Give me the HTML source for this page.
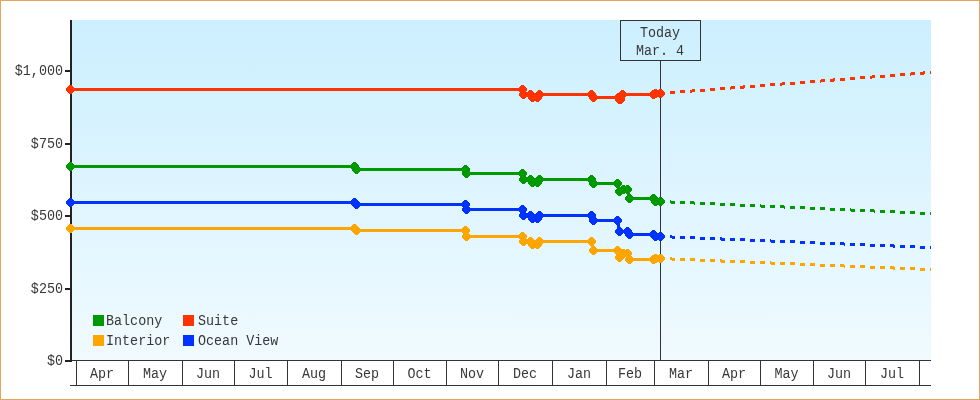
<!DOCTYPE html><html><head><meta charset="utf-8"><style>html,body{margin:0;padding:0;background:#fff}svg{display:block}text{will-change:transform;font-family:"Liberation Mono",monospace;font-size:13.4px;fill:#383838}</style></head><body>
<svg width="980" height="400" viewBox="0 0 980 400">
<defs><linearGradient id="bg" x1="0" y1="0" x2="0" y2="1"><stop offset="0" stop-color="#ccefff"/><stop offset="1" stop-color="#f0faff"/></linearGradient><clipPath id="pc"><rect x="0" y="0" width="931" height="400"/></clipPath></defs>
<rect x="0" y="0" width="980" height="400" fill="#fff"/>
<rect x="0.5" y="0.5" width="979" height="399" fill="none" stroke="#e9a25a" stroke-width="1"/>
<rect x="72" y="20" width="859" height="340" fill="url(#bg)"/>
<g shape-rendering="crispEdges" stroke="#333333" stroke-width="1" fill="none">
<line x1="70" y1="360.5" x2="931" y2="360.5"/>
<line x1="70" y1="385.5" x2="931" y2="385.5"/>
<line x1="76.5" y1="360" x2="76.5" y2="386"/>
<line x1="128.5" y1="360" x2="128.5" y2="386"/>
<line x1="182.5" y1="360" x2="182.5" y2="386"/>
<line x1="234.5" y1="360" x2="234.5" y2="386"/>
<line x1="287.5" y1="360" x2="287.5" y2="386"/>
<line x1="341.5" y1="360" x2="341.5" y2="386"/>
<line x1="393.5" y1="360" x2="393.5" y2="386"/>
<line x1="446.5" y1="360" x2="446.5" y2="386"/>
<line x1="498.5" y1="360" x2="498.5" y2="386"/>
<line x1="552.5" y1="360" x2="552.5" y2="386"/>
<line x1="606.5" y1="360" x2="606.5" y2="386"/>
<line x1="654.5" y1="360" x2="654.5" y2="386"/>
<line x1="708.5" y1="360" x2="708.5" y2="386"/>
<line x1="760.5" y1="360" x2="760.5" y2="386"/>
<line x1="813.5" y1="360" x2="813.5" y2="386"/>
<line x1="865.5" y1="360" x2="865.5" y2="386"/>
<line x1="919.5" y1="360" x2="919.5" y2="386"/>
</g>
<text transform="translate(102.0,378) scale(1,1.1)" text-anchor="middle">Apr</text>
<text transform="translate(155.0,378) scale(1,1.1)" text-anchor="middle">May</text>
<text transform="translate(208.0,378) scale(1,1.1)" text-anchor="middle">Jun</text>
<text transform="translate(260.5,378) scale(1,1.1)" text-anchor="middle">Jul</text>
<text transform="translate(314.0,378) scale(1,1.1)" text-anchor="middle">Aug</text>
<text transform="translate(367.0,378) scale(1,1.1)" text-anchor="middle">Sep</text>
<text transform="translate(419.5,378) scale(1,1.1)" text-anchor="middle">Oct</text>
<text transform="translate(472.0,378) scale(1,1.1)" text-anchor="middle">Nov</text>
<text transform="translate(525.0,378) scale(1,1.1)" text-anchor="middle">Dec</text>
<text transform="translate(579.0,378) scale(1,1.1)" text-anchor="middle">Jan</text>
<text transform="translate(630.0,378) scale(1,1.1)" text-anchor="middle">Feb</text>
<text transform="translate(681.0,378) scale(1,1.1)" text-anchor="middle">Mar</text>
<text transform="translate(734.0,378) scale(1,1.1)" text-anchor="middle">Apr</text>
<text transform="translate(786.5,378) scale(1,1.1)" text-anchor="middle">May</text>
<text transform="translate(839.0,378) scale(1,1.1)" text-anchor="middle">Jun</text>
<text transform="translate(892.0,378) scale(1,1.1)" text-anchor="middle">Jul</text>
<g shape-rendering="crispEdges" fill="#222222">
<rect x="70" y="20" width="2" height="342"/>
<rect x="65" y="70" width="6" height="2"/>
<rect x="65" y="143" width="6" height="2"/>
<rect x="65" y="215" width="6" height="2"/>
<rect x="65" y="288" width="6" height="2"/>
<rect x="65" y="360" width="6" height="2"/>
</g>
<text transform="translate(63,75) scale(1,1.1)" text-anchor="end">$1,000</text>
<text transform="translate(63,148) scale(1,1.1)" text-anchor="end">$750</text>
<text transform="translate(63,220) scale(1,1.1)" text-anchor="end">$500</text>
<text transform="translate(63,293) scale(1,1.1)" text-anchor="end">$250</text>
<text transform="translate(63,365) scale(1,1.1)" text-anchor="end">$0</text>
<g shape-rendering="crispEdges" stroke="#333333" stroke-width="1" fill="none">
<rect x="620.5" y="20.5" width="80" height="40"/>
<line x1="660.5" y1="61" x2="660.5" y2="360"/>
</g>
<text transform="translate(660,37) scale(1,1.1)" text-anchor="middle">Today</text>
<text transform="translate(660,55) scale(1,1.1)" text-anchor="middle">Mar. 4</text>
<g clip-path="url(#pc)">
<g transform="translate(0.5,0.5)" shape-rendering="crispEdges">
<path d="M659.50 258.00L664.50 258.20M669.50 258.41L674.50 258.61M679.50 258.81L684.50 259.02M689.50 259.22L694.50 259.43M699.50 259.63L704.50 259.83M709.50 260.04L714.50 260.24M719.50 260.44L724.50 260.65M729.50 260.85L734.50 261.06M739.50 261.26L744.50 261.46M749.50 261.67L754.50 261.87M759.50 262.07L764.50 262.28M769.50 262.48L774.50 262.69M779.50 262.89L784.50 263.09M789.50 263.30L794.50 263.50M799.50 263.70L804.50 263.91M809.50 264.11L814.50 264.31M819.50 264.52L824.50 264.72M829.50 264.93L834.50 265.13M839.50 265.33L844.50 265.54M849.50 265.74L854.50 265.94M859.50 266.15L864.50 266.35M869.50 266.56L874.50 266.76M879.50 266.96L884.50 267.17M889.50 267.37L894.50 267.57M899.50 267.78L904.50 267.98M909.50 268.19L914.50 268.39M919.50 268.59L924.50 268.80M929.50 269.00L934.50 269.20" stroke="#ffa500" stroke-width="3" fill="none"/>
<path d="M659.50 236.00L664.50 236.20M669.50 236.41L674.50 236.61M679.50 236.81L684.50 237.02M689.50 237.22L694.50 237.43M699.50 237.63L704.50 237.83M709.50 238.04L714.50 238.24M719.50 238.44L724.50 238.65M729.50 238.85L734.50 239.06M739.50 239.26L744.50 239.46M749.50 239.67L754.50 239.87M759.50 240.07L764.50 240.28M769.50 240.48L774.50 240.69M779.50 240.89L784.50 241.09M789.50 241.30L794.50 241.50M799.50 241.70L804.50 241.91M809.50 242.11L814.50 242.31M819.50 242.52L824.50 242.72M829.50 242.93L834.50 243.13M839.50 243.33L844.50 243.54M849.50 243.74L854.50 243.94M859.50 244.15L864.50 244.35M869.50 244.56L874.50 244.76M879.50 244.96L884.50 245.17M889.50 245.37L894.50 245.57M899.50 245.78L904.50 245.98M909.50 246.19L914.50 246.39M919.50 246.59L924.50 246.80M929.50 247.00L934.50 247.20" stroke="#0033ff" stroke-width="3" fill="none"/>
<path d="M659.50 201.00L664.50 201.22M669.50 201.44L674.50 201.67M679.50 201.89L684.50 202.11M689.50 202.33L694.50 202.56M699.50 202.78L704.50 203.00M709.50 203.22L714.50 203.44M719.50 203.67L724.50 203.89M729.50 204.11L734.50 204.33M739.50 204.56L744.50 204.78M749.50 205.00L754.50 205.22M759.50 205.44L764.50 205.67M769.50 205.89L774.50 206.11M779.50 206.33L784.50 206.56M789.50 206.78L794.50 207.00M799.50 207.22L804.50 207.44M809.50 207.67L814.50 207.89M819.50 208.11L824.50 208.33M829.50 208.56L834.50 208.78M839.50 209.00L844.50 209.22M849.50 209.44L854.50 209.67M859.50 209.89L864.50 210.11M869.50 210.33L874.50 210.56M879.50 210.78L884.50 211.00M889.50 211.22L894.50 211.44M899.50 211.67L904.50 211.89M909.50 212.11L914.50 212.33M919.50 212.56L924.50 212.78M929.50 213.00L934.50 213.22" stroke="#009900" stroke-width="3" fill="none"/>
<path d="M659.50 93.00L664.50 92.61M669.50 92.22L674.50 91.83M679.50 91.44L684.50 91.06M689.50 90.67L694.50 90.28M699.50 89.89L704.50 89.50M709.50 89.11L714.50 88.72M719.50 88.33L724.50 87.94M729.50 87.56L734.50 87.17M739.50 86.78L744.50 86.39M749.50 86.00L754.50 85.61M759.50 85.22L764.50 84.83M769.50 84.44L774.50 84.06M779.50 83.67L784.50 83.28M789.50 82.89L794.50 82.50M799.50 82.11L804.50 81.72M809.50 81.33L814.50 80.94M819.50 80.56L824.50 80.17M829.50 79.78L834.50 79.39M839.50 79.00L844.50 78.61M849.50 78.22L854.50 77.83M859.50 77.44L864.50 77.06M869.50 76.67L874.50 76.28M879.50 75.89L884.50 75.50M889.50 75.11L894.50 74.72M899.50 74.33L904.50 73.94M909.50 73.56L914.50 73.17M919.50 72.78L924.50 72.39M929.50 72.00L934.50 71.61" stroke="#ff3300" stroke-width="3" fill="none"/>
<polyline fill="none" stroke="#ffa500" stroke-width="3" stroke-linejoin="miter" points="70,228 354,228 356,230 465,230 466,236 522,236 523,241 530,241 532,244 537,244 539,241 591,241 593,250 617,250 619,257 623,253 627,253 629,259 653,259 655,258 660,258"/>
<polyline fill="none" stroke="#0033ff" stroke-width="3" stroke-linejoin="miter" points="70,202 354,202 356,204 465,204 466,209 522,209 523,215 530,215 532,218 537,218 539,215 591,215 593,220 617,220 619,231 627,231 629,234 653,234 655,236 660,236"/>
<polyline fill="none" stroke="#009900" stroke-width="3" stroke-linejoin="miter" points="70,166 354,166 356,169 465,169 466,173 522,173 523,179 530,179 532,182 537,182 539,179 591,179 593,183 617,183 619,191 623,189 627,189 629,198 653,198 655,201 660,201"/>
<polyline fill="none" stroke="#ff3300" stroke-width="3" stroke-linejoin="miter" points="70,89 522,89 523,94 530,94 532,97 537,97 539,94 591,94 593,97 618,97 619,99 620,99 622,94 653,94 655,93 660,93"/>
</g><g shape-rendering="crispEdges">
<path fill="#ffa500" d="M69 224h3v1h-3zM68 225h5v1h-5zM67 226h7v1h-7zM66 227h9v1h-9zM66 228h9v1h-9zM66 229h9v1h-9zM67 230h7v1h-7zM68 231h5v1h-5zM69 232h3v1h-3z"/>
<path fill="#ffa500" d="M353 224h3v1h-3zM352 225h5v1h-5zM351 226h7v1h-7zM350 227h9v1h-9zM350 228h9v1h-9zM350 229h9v1h-9zM351 230h7v1h-7zM352 231h5v1h-5zM353 232h3v1h-3z"/>
<path fill="#ffa500" d="M355 226h3v1h-3zM354 227h5v1h-5zM353 228h7v1h-7zM352 229h9v1h-9zM352 230h9v1h-9zM352 231h9v1h-9zM353 232h7v1h-7zM354 233h5v1h-5zM355 234h3v1h-3z"/>
<path fill="#ffa500" d="M464 226h3v1h-3zM463 227h5v1h-5zM462 228h7v1h-7zM461 229h9v1h-9zM461 230h9v1h-9zM461 231h9v1h-9zM462 232h7v1h-7zM463 233h5v1h-5zM464 234h3v1h-3z"/>
<path fill="#ffa500" d="M465 232h3v1h-3zM464 233h5v1h-5zM463 234h7v1h-7zM462 235h9v1h-9zM462 236h9v1h-9zM462 237h9v1h-9zM463 238h7v1h-7zM464 239h5v1h-5zM465 240h3v1h-3z"/>
<path fill="#ffa500" d="M521 232h3v1h-3zM520 233h5v1h-5zM519 234h7v1h-7zM518 235h9v1h-9zM518 236h9v1h-9zM518 237h9v1h-9zM519 238h7v1h-7zM520 239h5v1h-5zM521 240h3v1h-3z"/>
<path fill="#ffa500" d="M522 237h3v1h-3zM521 238h5v1h-5zM520 239h7v1h-7zM519 240h9v1h-9zM519 241h9v1h-9zM519 242h9v1h-9zM520 243h7v1h-7zM521 244h5v1h-5zM522 245h3v1h-3z"/>
<path fill="#ffa500" d="M529 237h3v1h-3zM528 238h5v1h-5zM527 239h7v1h-7zM526 240h9v1h-9zM526 241h9v1h-9zM526 242h9v1h-9zM527 243h7v1h-7zM528 244h5v1h-5zM529 245h3v1h-3z"/>
<path fill="#ffa500" d="M531 240h3v1h-3zM530 241h5v1h-5zM529 242h7v1h-7zM528 243h9v1h-9zM528 244h9v1h-9zM528 245h9v1h-9zM529 246h7v1h-7zM530 247h5v1h-5zM531 248h3v1h-3z"/>
<path fill="#ffa500" d="M536 240h3v1h-3zM535 241h5v1h-5zM534 242h7v1h-7zM533 243h9v1h-9zM533 244h9v1h-9zM533 245h9v1h-9zM534 246h7v1h-7zM535 247h5v1h-5zM536 248h3v1h-3z"/>
<path fill="#ffa500" d="M538 237h3v1h-3zM537 238h5v1h-5zM536 239h7v1h-7zM535 240h9v1h-9zM535 241h9v1h-9zM535 242h9v1h-9zM536 243h7v1h-7zM537 244h5v1h-5zM538 245h3v1h-3z"/>
<path fill="#ffa500" d="M590 237h3v1h-3zM589 238h5v1h-5zM588 239h7v1h-7zM587 240h9v1h-9zM587 241h9v1h-9zM587 242h9v1h-9zM588 243h7v1h-7zM589 244h5v1h-5zM590 245h3v1h-3z"/>
<path fill="#ffa500" d="M592 246h3v1h-3zM591 247h5v1h-5zM590 248h7v1h-7zM589 249h9v1h-9zM589 250h9v1h-9zM589 251h9v1h-9zM590 252h7v1h-7zM591 253h5v1h-5zM592 254h3v1h-3z"/>
<path fill="#ffa500" d="M616 246h3v1h-3zM615 247h5v1h-5zM614 248h7v1h-7zM613 249h9v1h-9zM613 250h9v1h-9zM613 251h9v1h-9zM614 252h7v1h-7zM615 253h5v1h-5zM616 254h3v1h-3z"/>
<path fill="#ffa500" d="M618 253h3v1h-3zM617 254h5v1h-5zM616 255h7v1h-7zM615 256h9v1h-9zM615 257h9v1h-9zM615 258h9v1h-9zM616 259h7v1h-7zM617 260h5v1h-5zM618 261h3v1h-3z"/>
<path fill="#ffa500" d="M622 249h3v1h-3zM621 250h5v1h-5zM620 251h7v1h-7zM619 252h9v1h-9zM619 253h9v1h-9zM619 254h9v1h-9zM620 255h7v1h-7zM621 256h5v1h-5zM622 257h3v1h-3z"/>
<path fill="#ffa500" d="M626 249h3v1h-3zM625 250h5v1h-5zM624 251h7v1h-7zM623 252h9v1h-9zM623 253h9v1h-9zM623 254h9v1h-9zM624 255h7v1h-7zM625 256h5v1h-5zM626 257h3v1h-3z"/>
<path fill="#ffa500" d="M628 255h3v1h-3zM627 256h5v1h-5zM626 257h7v1h-7zM625 258h9v1h-9zM625 259h9v1h-9zM625 260h9v1h-9zM626 261h7v1h-7zM627 262h5v1h-5zM628 263h3v1h-3z"/>
<path fill="#ffa500" d="M652 255h3v1h-3zM651 256h5v1h-5zM650 257h7v1h-7zM649 258h9v1h-9zM649 259h9v1h-9zM649 260h9v1h-9zM650 261h7v1h-7zM651 262h5v1h-5zM652 263h3v1h-3z"/>
<path fill="#ffa500" d="M654 254h3v1h-3zM653 255h5v1h-5zM652 256h7v1h-7zM651 257h9v1h-9zM651 258h9v1h-9zM651 259h9v1h-9zM652 260h7v1h-7zM653 261h5v1h-5zM654 262h3v1h-3z"/>
<path fill="#ffa500" d="M659 254h3v1h-3zM658 255h5v1h-5zM657 256h7v1h-7zM656 257h9v1h-9zM656 258h9v1h-9zM656 259h9v1h-9zM657 260h7v1h-7zM658 261h5v1h-5zM659 262h3v1h-3z"/>
<path fill="#0033ff" d="M69 198h3v1h-3zM68 199h5v1h-5zM67 200h7v1h-7zM66 201h9v1h-9zM66 202h9v1h-9zM66 203h9v1h-9zM67 204h7v1h-7zM68 205h5v1h-5zM69 206h3v1h-3z"/>
<path fill="#0033ff" d="M353 198h3v1h-3zM352 199h5v1h-5zM351 200h7v1h-7zM350 201h9v1h-9zM350 202h9v1h-9zM350 203h9v1h-9zM351 204h7v1h-7zM352 205h5v1h-5zM353 206h3v1h-3z"/>
<path fill="#0033ff" d="M355 200h3v1h-3zM354 201h5v1h-5zM353 202h7v1h-7zM352 203h9v1h-9zM352 204h9v1h-9zM352 205h9v1h-9zM353 206h7v1h-7zM354 207h5v1h-5zM355 208h3v1h-3z"/>
<path fill="#0033ff" d="M464 200h3v1h-3zM463 201h5v1h-5zM462 202h7v1h-7zM461 203h9v1h-9zM461 204h9v1h-9zM461 205h9v1h-9zM462 206h7v1h-7zM463 207h5v1h-5zM464 208h3v1h-3z"/>
<path fill="#0033ff" d="M465 205h3v1h-3zM464 206h5v1h-5zM463 207h7v1h-7zM462 208h9v1h-9zM462 209h9v1h-9zM462 210h9v1h-9zM463 211h7v1h-7zM464 212h5v1h-5zM465 213h3v1h-3z"/>
<path fill="#0033ff" d="M521 205h3v1h-3zM520 206h5v1h-5zM519 207h7v1h-7zM518 208h9v1h-9zM518 209h9v1h-9zM518 210h9v1h-9zM519 211h7v1h-7zM520 212h5v1h-5zM521 213h3v1h-3z"/>
<path fill="#0033ff" d="M522 211h3v1h-3zM521 212h5v1h-5zM520 213h7v1h-7zM519 214h9v1h-9zM519 215h9v1h-9zM519 216h9v1h-9zM520 217h7v1h-7zM521 218h5v1h-5zM522 219h3v1h-3z"/>
<path fill="#0033ff" d="M529 211h3v1h-3zM528 212h5v1h-5zM527 213h7v1h-7zM526 214h9v1h-9zM526 215h9v1h-9zM526 216h9v1h-9zM527 217h7v1h-7zM528 218h5v1h-5zM529 219h3v1h-3z"/>
<path fill="#0033ff" d="M531 214h3v1h-3zM530 215h5v1h-5zM529 216h7v1h-7zM528 217h9v1h-9zM528 218h9v1h-9zM528 219h9v1h-9zM529 220h7v1h-7zM530 221h5v1h-5zM531 222h3v1h-3z"/>
<path fill="#0033ff" d="M536 214h3v1h-3zM535 215h5v1h-5zM534 216h7v1h-7zM533 217h9v1h-9zM533 218h9v1h-9zM533 219h9v1h-9zM534 220h7v1h-7zM535 221h5v1h-5zM536 222h3v1h-3z"/>
<path fill="#0033ff" d="M538 211h3v1h-3zM537 212h5v1h-5zM536 213h7v1h-7zM535 214h9v1h-9zM535 215h9v1h-9zM535 216h9v1h-9zM536 217h7v1h-7zM537 218h5v1h-5zM538 219h3v1h-3z"/>
<path fill="#0033ff" d="M590 211h3v1h-3zM589 212h5v1h-5zM588 213h7v1h-7zM587 214h9v1h-9zM587 215h9v1h-9zM587 216h9v1h-9zM588 217h7v1h-7zM589 218h5v1h-5zM590 219h3v1h-3z"/>
<path fill="#0033ff" d="M592 216h3v1h-3zM591 217h5v1h-5zM590 218h7v1h-7zM589 219h9v1h-9zM589 220h9v1h-9zM589 221h9v1h-9zM590 222h7v1h-7zM591 223h5v1h-5zM592 224h3v1h-3z"/>
<path fill="#0033ff" d="M616 216h3v1h-3zM615 217h5v1h-5zM614 218h7v1h-7zM613 219h9v1h-9zM613 220h9v1h-9zM613 221h9v1h-9zM614 222h7v1h-7zM615 223h5v1h-5zM616 224h3v1h-3z"/>
<path fill="#0033ff" d="M618 227h3v1h-3zM617 228h5v1h-5zM616 229h7v1h-7zM615 230h9v1h-9zM615 231h9v1h-9zM615 232h9v1h-9zM616 233h7v1h-7zM617 234h5v1h-5zM618 235h3v1h-3z"/>
<path fill="#0033ff" d="M626 227h3v1h-3zM625 228h5v1h-5zM624 229h7v1h-7zM623 230h9v1h-9zM623 231h9v1h-9zM623 232h9v1h-9zM624 233h7v1h-7zM625 234h5v1h-5zM626 235h3v1h-3z"/>
<path fill="#0033ff" d="M628 230h3v1h-3zM627 231h5v1h-5zM626 232h7v1h-7zM625 233h9v1h-9zM625 234h9v1h-9zM625 235h9v1h-9zM626 236h7v1h-7zM627 237h5v1h-5zM628 238h3v1h-3z"/>
<path fill="#0033ff" d="M652 230h3v1h-3zM651 231h5v1h-5zM650 232h7v1h-7zM649 233h9v1h-9zM649 234h9v1h-9zM649 235h9v1h-9zM650 236h7v1h-7zM651 237h5v1h-5zM652 238h3v1h-3z"/>
<path fill="#0033ff" d="M654 232h3v1h-3zM653 233h5v1h-5zM652 234h7v1h-7zM651 235h9v1h-9zM651 236h9v1h-9zM651 237h9v1h-9zM652 238h7v1h-7zM653 239h5v1h-5zM654 240h3v1h-3z"/>
<path fill="#0033ff" d="M659 232h3v1h-3zM658 233h5v1h-5zM657 234h7v1h-7zM656 235h9v1h-9zM656 236h9v1h-9zM656 237h9v1h-9zM657 238h7v1h-7zM658 239h5v1h-5zM659 240h3v1h-3z"/>
<path fill="#009900" d="M69 162h3v1h-3zM68 163h5v1h-5zM67 164h7v1h-7zM66 165h9v1h-9zM66 166h9v1h-9zM66 167h9v1h-9zM67 168h7v1h-7zM68 169h5v1h-5zM69 170h3v1h-3z"/>
<path fill="#009900" d="M353 162h3v1h-3zM352 163h5v1h-5zM351 164h7v1h-7zM350 165h9v1h-9zM350 166h9v1h-9zM350 167h9v1h-9zM351 168h7v1h-7zM352 169h5v1h-5zM353 170h3v1h-3z"/>
<path fill="#009900" d="M355 165h3v1h-3zM354 166h5v1h-5zM353 167h7v1h-7zM352 168h9v1h-9zM352 169h9v1h-9zM352 170h9v1h-9zM353 171h7v1h-7zM354 172h5v1h-5zM355 173h3v1h-3z"/>
<path fill="#009900" d="M464 165h3v1h-3zM463 166h5v1h-5zM462 167h7v1h-7zM461 168h9v1h-9zM461 169h9v1h-9zM461 170h9v1h-9zM462 171h7v1h-7zM463 172h5v1h-5zM464 173h3v1h-3z"/>
<path fill="#009900" d="M465 169h3v1h-3zM464 170h5v1h-5zM463 171h7v1h-7zM462 172h9v1h-9zM462 173h9v1h-9zM462 174h9v1h-9zM463 175h7v1h-7zM464 176h5v1h-5zM465 177h3v1h-3z"/>
<path fill="#009900" d="M521 169h3v1h-3zM520 170h5v1h-5zM519 171h7v1h-7zM518 172h9v1h-9zM518 173h9v1h-9zM518 174h9v1h-9zM519 175h7v1h-7zM520 176h5v1h-5zM521 177h3v1h-3z"/>
<path fill="#009900" d="M522 175h3v1h-3zM521 176h5v1h-5zM520 177h7v1h-7zM519 178h9v1h-9zM519 179h9v1h-9zM519 180h9v1h-9zM520 181h7v1h-7zM521 182h5v1h-5zM522 183h3v1h-3z"/>
<path fill="#009900" d="M529 175h3v1h-3zM528 176h5v1h-5zM527 177h7v1h-7zM526 178h9v1h-9zM526 179h9v1h-9zM526 180h9v1h-9zM527 181h7v1h-7zM528 182h5v1h-5zM529 183h3v1h-3z"/>
<path fill="#009900" d="M531 178h3v1h-3zM530 179h5v1h-5zM529 180h7v1h-7zM528 181h9v1h-9zM528 182h9v1h-9zM528 183h9v1h-9zM529 184h7v1h-7zM530 185h5v1h-5zM531 186h3v1h-3z"/>
<path fill="#009900" d="M536 178h3v1h-3zM535 179h5v1h-5zM534 180h7v1h-7zM533 181h9v1h-9zM533 182h9v1h-9zM533 183h9v1h-9zM534 184h7v1h-7zM535 185h5v1h-5zM536 186h3v1h-3z"/>
<path fill="#009900" d="M538 175h3v1h-3zM537 176h5v1h-5zM536 177h7v1h-7zM535 178h9v1h-9zM535 179h9v1h-9zM535 180h9v1h-9zM536 181h7v1h-7zM537 182h5v1h-5zM538 183h3v1h-3z"/>
<path fill="#009900" d="M590 175h3v1h-3zM589 176h5v1h-5zM588 177h7v1h-7zM587 178h9v1h-9zM587 179h9v1h-9zM587 180h9v1h-9zM588 181h7v1h-7zM589 182h5v1h-5zM590 183h3v1h-3z"/>
<path fill="#009900" d="M592 179h3v1h-3zM591 180h5v1h-5zM590 181h7v1h-7zM589 182h9v1h-9zM589 183h9v1h-9zM589 184h9v1h-9zM590 185h7v1h-7zM591 186h5v1h-5zM592 187h3v1h-3z"/>
<path fill="#009900" d="M616 179h3v1h-3zM615 180h5v1h-5zM614 181h7v1h-7zM613 182h9v1h-9zM613 183h9v1h-9zM613 184h9v1h-9zM614 185h7v1h-7zM615 186h5v1h-5zM616 187h3v1h-3z"/>
<path fill="#009900" d="M618 187h3v1h-3zM617 188h5v1h-5zM616 189h7v1h-7zM615 190h9v1h-9zM615 191h9v1h-9zM615 192h9v1h-9zM616 193h7v1h-7zM617 194h5v1h-5zM618 195h3v1h-3z"/>
<path fill="#009900" d="M622 185h3v1h-3zM621 186h5v1h-5zM620 187h7v1h-7zM619 188h9v1h-9zM619 189h9v1h-9zM619 190h9v1h-9zM620 191h7v1h-7zM621 192h5v1h-5zM622 193h3v1h-3z"/>
<path fill="#009900" d="M626 185h3v1h-3zM625 186h5v1h-5zM624 187h7v1h-7zM623 188h9v1h-9zM623 189h9v1h-9zM623 190h9v1h-9zM624 191h7v1h-7zM625 192h5v1h-5zM626 193h3v1h-3z"/>
<path fill="#009900" d="M628 194h3v1h-3zM627 195h5v1h-5zM626 196h7v1h-7zM625 197h9v1h-9zM625 198h9v1h-9zM625 199h9v1h-9zM626 200h7v1h-7zM627 201h5v1h-5zM628 202h3v1h-3z"/>
<path fill="#009900" d="M652 194h3v1h-3zM651 195h5v1h-5zM650 196h7v1h-7zM649 197h9v1h-9zM649 198h9v1h-9zM649 199h9v1h-9zM650 200h7v1h-7zM651 201h5v1h-5zM652 202h3v1h-3z"/>
<path fill="#009900" d="M654 197h3v1h-3zM653 198h5v1h-5zM652 199h7v1h-7zM651 200h9v1h-9zM651 201h9v1h-9zM651 202h9v1h-9zM652 203h7v1h-7zM653 204h5v1h-5zM654 205h3v1h-3z"/>
<path fill="#009900" d="M659 197h3v1h-3zM658 198h5v1h-5zM657 199h7v1h-7zM656 200h9v1h-9zM656 201h9v1h-9zM656 202h9v1h-9zM657 203h7v1h-7zM658 204h5v1h-5zM659 205h3v1h-3z"/>
<path fill="#ff3300" d="M69 85h3v1h-3zM68 86h5v1h-5zM67 87h7v1h-7zM66 88h9v1h-9zM66 89h9v1h-9zM66 90h9v1h-9zM67 91h7v1h-7zM68 92h5v1h-5zM69 93h3v1h-3z"/>
<path fill="#ff3300" d="M521 85h3v1h-3zM520 86h5v1h-5zM519 87h7v1h-7zM518 88h9v1h-9zM518 89h9v1h-9zM518 90h9v1h-9zM519 91h7v1h-7zM520 92h5v1h-5zM521 93h3v1h-3z"/>
<path fill="#ff3300" d="M522 90h3v1h-3zM521 91h5v1h-5zM520 92h7v1h-7zM519 93h9v1h-9zM519 94h9v1h-9zM519 95h9v1h-9zM520 96h7v1h-7zM521 97h5v1h-5zM522 98h3v1h-3z"/>
<path fill="#ff3300" d="M529 90h3v1h-3zM528 91h5v1h-5zM527 92h7v1h-7zM526 93h9v1h-9zM526 94h9v1h-9zM526 95h9v1h-9zM527 96h7v1h-7zM528 97h5v1h-5zM529 98h3v1h-3z"/>
<path fill="#ff3300" d="M531 93h3v1h-3zM530 94h5v1h-5zM529 95h7v1h-7zM528 96h9v1h-9zM528 97h9v1h-9zM528 98h9v1h-9zM529 99h7v1h-7zM530 100h5v1h-5zM531 101h3v1h-3z"/>
<path fill="#ff3300" d="M536 93h3v1h-3zM535 94h5v1h-5zM534 95h7v1h-7zM533 96h9v1h-9zM533 97h9v1h-9zM533 98h9v1h-9zM534 99h7v1h-7zM535 100h5v1h-5zM536 101h3v1h-3z"/>
<path fill="#ff3300" d="M538 90h3v1h-3zM537 91h5v1h-5zM536 92h7v1h-7zM535 93h9v1h-9zM535 94h9v1h-9zM535 95h9v1h-9zM536 96h7v1h-7zM537 97h5v1h-5zM538 98h3v1h-3z"/>
<path fill="#ff3300" d="M590 90h3v1h-3zM589 91h5v1h-5zM588 92h7v1h-7zM587 93h9v1h-9zM587 94h9v1h-9zM587 95h9v1h-9zM588 96h7v1h-7zM589 97h5v1h-5zM590 98h3v1h-3z"/>
<path fill="#ff3300" d="M592 93h3v1h-3zM591 94h5v1h-5zM590 95h7v1h-7zM589 96h9v1h-9zM589 97h9v1h-9zM589 98h9v1h-9zM590 99h7v1h-7zM591 100h5v1h-5zM592 101h3v1h-3z"/>
<path fill="#ff3300" d="M617 93h3v1h-3zM616 94h5v1h-5zM615 95h7v1h-7zM614 96h9v1h-9zM614 97h9v1h-9zM614 98h9v1h-9zM615 99h7v1h-7zM616 100h5v1h-5zM617 101h3v1h-3z"/>
<path fill="#ff3300" d="M618 95h3v1h-3zM617 96h5v1h-5zM616 97h7v1h-7zM615 98h9v1h-9zM615 99h9v1h-9zM615 100h9v1h-9zM616 101h7v1h-7zM617 102h5v1h-5zM618 103h3v1h-3z"/>
<path fill="#ff3300" d="M619 95h3v1h-3zM618 96h5v1h-5zM617 97h7v1h-7zM616 98h9v1h-9zM616 99h9v1h-9zM616 100h9v1h-9zM617 101h7v1h-7zM618 102h5v1h-5zM619 103h3v1h-3z"/>
<path fill="#ff3300" d="M621 90h3v1h-3zM620 91h5v1h-5zM619 92h7v1h-7zM618 93h9v1h-9zM618 94h9v1h-9zM618 95h9v1h-9zM619 96h7v1h-7zM620 97h5v1h-5zM621 98h3v1h-3z"/>
<path fill="#ff3300" d="M652 90h3v1h-3zM651 91h5v1h-5zM650 92h7v1h-7zM649 93h9v1h-9zM649 94h9v1h-9zM649 95h9v1h-9zM650 96h7v1h-7zM651 97h5v1h-5zM652 98h3v1h-3z"/>
<path fill="#ff3300" d="M654 89h3v1h-3zM653 90h5v1h-5zM652 91h7v1h-7zM651 92h9v1h-9zM651 93h9v1h-9zM651 94h9v1h-9zM652 95h7v1h-7zM653 96h5v1h-5zM654 97h3v1h-3z"/>
<path fill="#ff3300" d="M659 89h3v1h-3zM658 90h5v1h-5zM657 91h7v1h-7zM656 92h9v1h-9zM656 93h9v1h-9zM656 94h9v1h-9zM657 95h7v1h-7zM658 96h5v1h-5zM659 97h3v1h-3z"/>
</g></g>
<g shape-rendering="crispEdges">
<rect x="93" y="315" width="11" height="11" fill="#009900"/>
<rect x="183" y="315" width="11" height="11" fill="#ff3300"/>
<rect x="93" y="335" width="11" height="11" fill="#ffa500"/>
<rect x="183" y="335" width="11" height="11" fill="#0033ff"/>
</g>
<text transform="translate(106,325) scale(1,1.1)">Balcony</text>
<text transform="translate(198,325) scale(1,1.1)">Suite</text>
<text transform="translate(106,345) scale(1,1.1)">Interior</text>
<text transform="translate(198,345) scale(1,1.1)">Ocean View</text>
</svg></body></html>
